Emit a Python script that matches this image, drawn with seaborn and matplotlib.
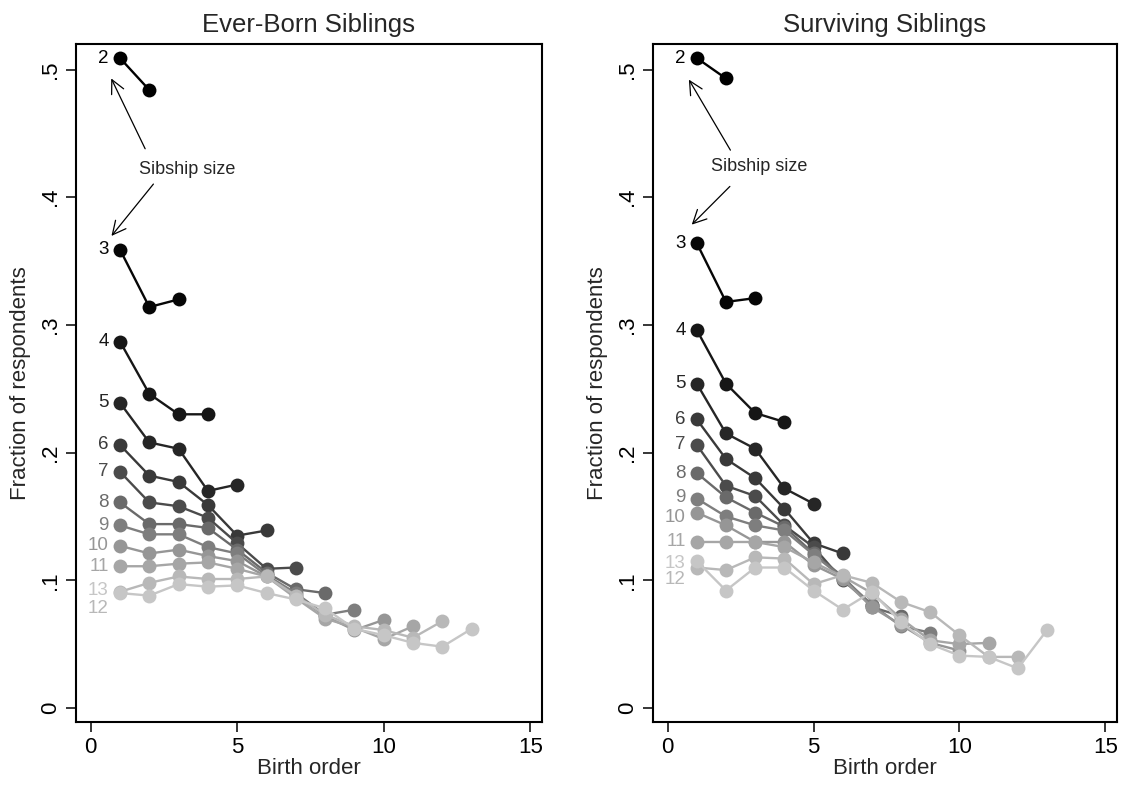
import pandas as pd
import matplotlib
matplotlib.use("Agg")
import matplotlib.pyplot as plt
import seaborn as sns

# ================= Data =================
sizes = [2, 3, 4, 5, 6, 7, 8, 9, 10, 11, 12, 13]

ever_born = {
    2: [.509, .484],
    3: [.359, .314, .320],
    4: [.287, .246, .230, .230],
    5: [.239, .208, .203, .170, .175],
    6: [.206, .182, .177, .159, .135, .139],
    7: [.185, .161, .158, .149, .129, .109, .110],
    8: [.161, .144, .144, .141, .124, .106, .093, .090],
    9: [.143, .136, .136, .126, .121, .104, .090, .073, .077],
    10: [.127, .121, .124, .119, .115, .103, .088, .072, .061, .069],
    11: [.111, .111, .113, .114, .109, .103, .086, .070, .063, .054, .064],
    12: [.091, .098, .103, .101, .101, .103, .088, .073, .064, .061, .055, .068],
    13: [.090, .088, .097, .095, .096, .090, .085, .078, .062, .057, .051, .048, .062],
}

surviving = {
    2: [.509, .493],
    3: [.364, .318, .321],
    4: [.296, .254, .231, .224],
    5: [.254, .215, .203, .172, .160],
    6: [.226, .195, .180, .156, .129, .121],
    7: [.206, .174, .166, .143, .126, .100, .081],
    8: [.184, .165, .153, .142, .121, .103, .079, .072],
    9: [.164, .150, .143, .139, .120, .102, .081, .064, .059],
    10: [.153, .143, .130, .130, .112, .101, .079, .065, .051, .045],
    11: [.130, .130, .130, .126, .114, .103, .090, .070, .053, .050, .051],
    12: [.110, .108, .118, .117, .097, .104, .098, .083, .075, .057, .040, .040],
    13: [.115, .092, .110, .110, .092, .077, .091, .067, .050, .041, .040, .031, .061],
}

greys = ["#000000", "#060606", "#161616", "#262626", "#393939", "#4b4b4b",
         "#6a6a6a", "#7e7e7e", "#969696", "#a6a6a6", "#b8b8b8", "#c6c6c6"]
palette = dict(zip(sizes, greys))

panel_titles = ["Ever-Born Siblings", "Surviving Siblings"]
x_ticks = [0, 5, 10, 15]
y_ticks = [0, .1, .2, .3, .4, .5]
y_ticklabels = ["0", ".1", ".2", ".3", ".4", ".5"]

# where crowded labels sit (they overlap otherwise)
label_y = [{12: .078, 13: .092}, {9: .165, 10: .149, 12: .101, 13: .113}]
# "Sibship size" note: text position, arrow tails and tips
note_xy = [(3.3, .4215), (3.15, .424)]
arrows = [
    [((1.9, .436), (.66, .495)), ((2.2, .412), (.65, .368))],
    [((2.2, .435), (.68, .494)), ((2.2, .410), (.76, .377))],
]


def to_long(series):
    rows = []
    for s in sizes:
        for i, v in enumerate(series[s]):
            rows.append({"size": s, "order": i + 1, "frac": v})
    return pd.DataFrame(rows)


sns.set_style("white")
plt.rcParams["font.family"] = ["Liberation Sans", "DejaVu Sans"]

fig = plt.figure(figsize=(11.23, 7.86), dpi=100)
ax1 = fig.add_axes([0.0677, 0.0814, 0.4149, 0.8626])
ax2 = fig.add_axes([0.5815, 0.0814, 0.4132, 0.8626])

for k, (ax, series) in enumerate(zip([ax1, ax2], [ever_born, surviving])):
    df = to_long(series)
    sns.lineplot(data=df, x="order", y="frac", hue="size", palette=palette,
                 marker="o", markersize=10, markeredgewidth=0, linewidth=1.7,
                 estimator=None, sort=False, legend=False, ax=ax)

    # sibship size labels next to the first point
    for s in sizes:
        y = label_y[k].get(s, series[s][0])
        ax.text(0.62, y, str(s), ha="right", va="center", fontsize=13.5,
                color=palette[s])

    ax.text(note_xy[k][0], note_xy[k][1], "Sibship size", ha="center",
            va="center", fontsize=13)
    for tail, tip in arrows[k]:
        ax.annotate("", xy=tip, xytext=tail,
                    arrowprops=dict(arrowstyle="->", color="black", lw=0.9,
                                    mutation_scale=24))

    ax.set_xlim(-0.5, 15.4)
    ax.set_ylim(-0.011, 0.52)
    ax.set_xticks(x_ticks)
    ax.set_yticks(y_ticks)
    ax.set_yticklabels(y_ticklabels, rotation=90, va="center")
    ax.tick_params(axis="both", direction="out", length=7, width=1.1,
                   labelsize=16, colors="black", bottom=True, left=True, pad=4)
    ax.set_xlabel("Birth order", fontsize=16, labelpad=0)
    ax.set_ylabel("Fraction of respondents", fontsize=16, labelpad=6)
    ax.set_title(panel_titles[k], fontsize=18.5, pad=9)
    for sp in ax.spines.values():
        sp.set_visible(True)
        sp.set_color("black")
        sp.set_linewidth(1.5)

fig.savefig("out.png", dpi=100, facecolor="white")
